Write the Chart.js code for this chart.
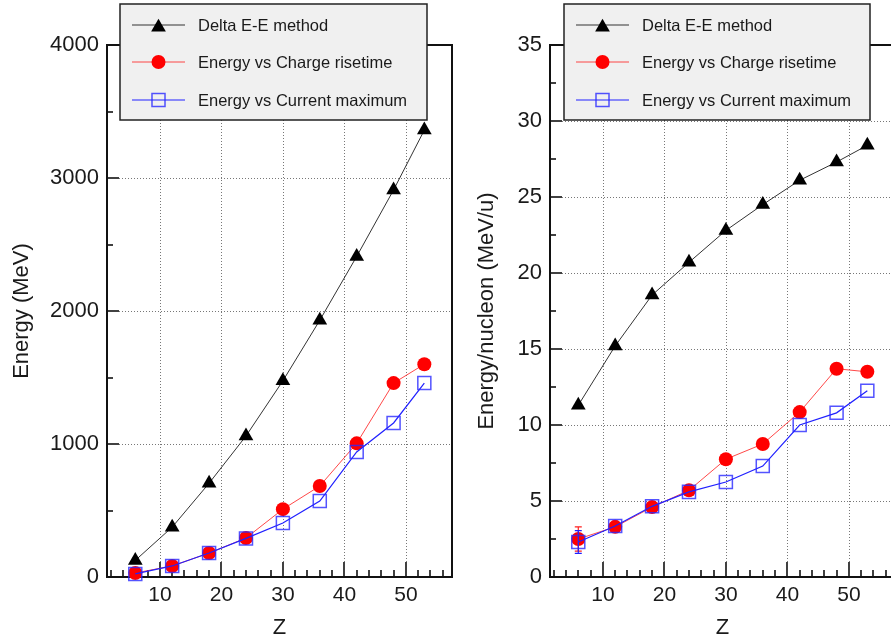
<!DOCTYPE html>
<html>
<head>
<meta charset="utf-8">
<script src="https://cdn.jsdelivr.net/npm/chart.js@4.4.0/dist/chart.umd.min.js"></script>
<style>
  html, body { margin: 0; padding: 0; background: #fff; overflow: hidden; }
  #wrap { position: relative; width: 891px; height: 642px; overflow: hidden; }
  canvas { position: absolute; top: 0; }
  #leftChart { left: 0; }
  #rightChart { left: 460px; }
</style>
</head>
<body>
<div id="wrap">
  <canvas id="leftChart" width="470" height="642"></canvas>
  <canvas id="rightChart" width="450" height="642"></canvas>
</div>
<script>
// 원자번호 Z
const zValues = [6, 12, 18, 24, 30, 36, 42, 48, 53];

// 왼쪽: 에너지 (MeV)
const deltaEnergy = [125, 375, 705, 1060, 1475, 1930, 2410, 2910, 3360];
const chargeEnergy = [30, 83, 180, 293, 510, 684, 1005, 1458, 1600];
const currentEnergy = [23, 83, 180, 290, 406, 571, 940, 1158, 1458];

// 오른쪽: 핵자당 에너지 (MeV/u)
const deltaPerNucleon = [11.3, 15.2, 18.55, 20.7, 22.8, 24.5, 26.1, 27.3, 28.4];
const chargePerNucleon = [2.5, 3.3, 4.6, 5.7, 7.75, 8.75, 10.85, 13.7, 13.5];
const currentPerNucleon = [2.3, 3.35, 4.65, 5.6, 6.25, 7.3, 10.0, 10.8, 12.25];

// 오차 막대 (Z=6 에서만 보임)
const chargeErrPerNucleon = [0.8, 0, 0, 0, 0, 0, 0, 0, 0];
const currentErrPerNucleon = [0.75, 0, 0, 0, 0, 0, 0, 0, 0];

const seriesNames = ['Delta E-E method', 'Energy vs Charge risetime', 'Energy vs Current maximum'];

// 눈금
const xMajorTicks = [10, 20, 30, 40, 50];
const xMinorTicks = [2, 4, 6, 8, 12, 14, 16, 18, 22, 24, 26, 28, 32, 34, 36, 38, 42, 44, 46, 48, 52, 54, 56];
const leftYMajor = [0, 1000, 2000, 3000, 4000];
const leftYMinor = [500, 1500, 2500, 3500];
const rightYMajor = [0, 5, 10, 15, 20, 25, 30, 35];
const rightYMinor = [2.5, 7.5, 12.5, 17.5, 22.5, 27.5, 32.5];

Chart.defaults.font.family = '"Liberation Sans", Arial, sans-serif';
Chart.defaults.color = '#1a1a1a';

// 축 테두리, 안쪽 눈금, 점선 격자
const framePlugin = {
  id: 'frame',
  beforeDatasetsDraw(chart, args, opts) {
    const ctx = chart.ctx;
    const a = chart.chartArea;
    const x = chart.scales.x;
    const y = chart.scales.y;
    ctx.save();

    ctx.strokeStyle = '#777';
    ctx.lineWidth = 1;
    ctx.setLineDash([1, 2]);
    opts.xMajor.forEach(v => {
      const px = Math.round(x.getPixelForValue(v)) + 0.5;
      ctx.beginPath(); ctx.moveTo(px, a.bottom - 15); ctx.lineTo(px, a.top); ctx.stroke();
    });
    opts.yMajor.forEach(v => {
      if (v === y.min || v === y.max) return;
      const py = Math.round(y.getPixelForValue(v)) + 0.5;
      ctx.beginPath(); ctx.moveTo(a.left + 12, py); ctx.lineTo(a.right, py); ctx.stroke();
    });
    ctx.setLineDash([]);

    ctx.strokeStyle = '#111';
    ctx.lineWidth = 1.6;
    const tickX = (list, len) => list.forEach(v => {
      const px = Math.round(x.getPixelForValue(v));
      ctx.beginPath(); ctx.moveTo(px, a.bottom); ctx.lineTo(px, a.bottom - len); ctx.stroke();
    });
    const tickY = (list, len) => list.forEach(v => {
      const py = Math.round(y.getPixelForValue(v));
      ctx.beginPath(); ctx.moveTo(a.left, py); ctx.lineTo(a.left + len, py); ctx.stroke();
    });
    tickX(opts.xMajor, 15);
    tickX(opts.xMinor, 7);
    tickY(opts.yMajor, 12);
    tickY(opts.yMinor, 6);

    ctx.lineWidth = 2;
    ctx.strokeRect(a.left, a.top, a.right - a.left, a.bottom - a.top);
    ctx.restore();
  }
};

// 오차 막대
const errorBarPlugin = {
  id: 'errbars',
  afterDatasetsDraw(chart, args, opts) {
    if (!opts.errors) return;
    const ctx = chart.ctx;
    const x = chart.scales.x;
    const y = chart.scales.y;
    ctx.save();
    ctx.lineWidth = 1.2;
    opts.errors.forEach(e => {
      const ds = chart.data.datasets[e.dataset];
      ctx.strokeStyle = e.color;
      ds.data.forEach((pt, i) => {
        const err = e.values[i];
        if (!err) return;
        const px = x.getPixelForValue(pt.x);
        const top = y.getPixelForValue(pt.y + err);
        const bot = y.getPixelForValue(pt.y - err);
        ctx.beginPath();
        ctx.moveTo(px, top); ctx.lineTo(px, bot);
        ctx.moveTo(px - 3.5, top); ctx.lineTo(px + 3.5, top);
        ctx.moveTo(px - 3.5, bot); ctx.lineTo(px + 3.5, bot);
        ctx.stroke();
      });
    });
    ctx.restore();
  }
};

// 범례 상자 (축 위에 겹쳐 그림)
function drawMarker(ctx, style, cx, cy, ds) {
  ctx.beginPath();
  if (style === 'triangle') {
    const r = ds.pointRadius;
    for (let k = 0; k < 3; k++) {
      const ang = k * 2 * Math.PI / 3;
      const px = cx + Math.sin(ang) * r;
      const py = cy + r * 0.25 - Math.cos(ang) * r;
      if (k === 0) ctx.moveTo(px, py); else ctx.lineTo(px, py);
    }
    ctx.closePath();
    ctx.fillStyle = ds.pointBackgroundColor;
    ctx.fill();
  } else if (style === 'circle') {
    ctx.arc(cx, cy, ds.pointRadius, 0, Math.PI * 2);
    ctx.fillStyle = ds.pointBackgroundColor;
    ctx.fill();
  } else {
    const s = ds.pointRadius * Math.SQRT1_2;
    ctx.rect(cx - s, cy - s, 2 * s, 2 * s);
    ctx.strokeStyle = ds.pointBorderColor;
    ctx.lineWidth = ds.pointBorderWidth;
    ctx.stroke();
  }
}

const boxLegendPlugin = {
  id: 'boxLegend',
  afterDraw(chart, args, opts) {
    const ctx = chart.ctx;
    const [x1, y1, x2, y2] = opts.box;
    ctx.save();
    ctx.fillStyle = '#f0f0f0';
    ctx.fillRect(x1, y1, x2 - x1, y2 - y1);
    ctx.strokeStyle = '#222';
    ctx.lineWidth = 1.5;
    ctx.strokeRect(x1, y1, x2 - x1, y2 - y1);

    chart.data.datasets.forEach((ds, i) => {
      const cy = opts.rows[i];
      ctx.strokeStyle = ds.borderColor;
      ctx.lineWidth = ds.borderWidth;
      ctx.beginPath();
      ctx.moveTo(opts.lineX[0], cy);
      ctx.lineTo(opts.lineX[1], cy);
      ctx.stroke();
      drawMarker(ctx, ds.pointStyle, (opts.lineX[0] + opts.lineX[1]) / 2, cy, ds);
      ctx.fillStyle = '#1a1a1a';
      ctx.font = '16.5px "Liberation Sans", Arial, sans-serif';
      ctx.textBaseline = 'middle';
      ctx.textAlign = 'left';
      ctx.fillText(ds.label, opts.textX, cy + 1);
    });
    ctx.restore();
  }
};

function toPoints(ys) {
  return ys.map((v, i) => ({ x: zValues[i], y: v }));
}

function makeDatasets(deltaArr, chargeArr, currentArr) {
  return [
    {
      label: seriesNames[0],
      data: toPoints(deltaArr),
      borderColor: '#333333',
      borderWidth: 1,
      pointStyle: 'triangle',
      pointRadius: 8.5,
      pointBackgroundColor: '#000000',
      pointBorderColor: '#000000',
      pointBorderWidth: 0,
      order: 3
    },
    {
      label: seriesNames[1],
      data: toPoints(chargeArr),
      borderColor: 'rgba(255, 40, 40, 0.85)',
      borderWidth: 1,
      pointStyle: 'circle',
      pointRadius: 7,
      pointBackgroundColor: '#ff0000',
      pointBorderColor: '#ff0000',
      pointBorderWidth: 0,
      order: 2
    },
    {
      label: seriesNames[2],
      data: toPoints(currentArr),
      borderColor: '#2020ff',
      borderWidth: 1.2,
      pointStyle: 'rect',
      pointRadius: 9.2,
      pointBackgroundColor: 'rgba(0, 0, 0, 0)',
      pointBorderColor: 'rgba(40, 40, 255, 0.8)',
      pointBorderWidth: 1.5,
      order: 1
    }
  ];
}

function makeChart(canvasId, cfg) {
  const ctx = document.getElementById(canvasId);
  return new Chart(ctx, {
    type: 'line',
    data: { datasets: cfg.datasets },
    plugins: [framePlugin, errorBarPlugin, boxLegendPlugin],
    options: {
      responsive: false,
      animation: false,
      events: [],
      datasets: { line: { clip: false, tension: 0 } },
      layout: { padding: { left: 0, right: cfg.padRight, top: 45, bottom: 0 } },
      plugins: {
        legend: { display: false },
        tooltip: { enabled: false },
        frame: { xMajor: xMajorTicks, xMinor: xMinorTicks, yMajor: cfg.yMajor, yMinor: cfg.yMinor },
        errbars: { errors: cfg.errors },
        boxLegend: cfg.legend
      },
      scales: {
        x: {
          type: 'linear',
          min: 1.4,
          max: 57.5,
          afterBuildTicks: s => { s.ticks = xMajorTicks.map(v => ({ value: v })); },
          afterFit: s => { s.height = 65; },
          grid: { display: false, drawTicks: false },
          border: { display: false },
          ticks: { font: { size: 21 }, padding: 6, maxRotation: 0, callback: v => String(v) },
          title: { display: true, text: 'Z', font: { size: 22, lineHeight: 1.2 }, padding: { top: 0, bottom: 1 } }
        },
        y: {
          type: 'linear',
          min: cfg.yMin,
          max: cfg.yMax,
          afterBuildTicks: s => { s.ticks = cfg.yMajor.map(v => ({ value: v })); },
          afterFit: s => { s.width = cfg.yWidth; },
          grid: { display: false, drawTicks: false },
          border: { display: false },
          ticks: { font: { size: 22 }, padding: 8, callback: v => String(v) },
          title: { display: true, text: cfg.yTitle, font: { size: 22, lineHeight: 1.2 }, padding: { top: cfg.titlePad, bottom: 0 } }
        }
      }
    }
  });
}

makeChart('leftChart', {
  datasets: makeDatasets(deltaEnergy, chargeEnergy, currentEnergy),
  yMin: 0, yMax: 4000,
  yMajor: leftYMajor, yMinor: leftYMinor,
  yTitle: 'Energy (MeV)',
  yWidth: 107, padRight: 18, titlePad: 9,
  errors: null,
  legend: { box: [120, 4, 427, 120], lineX: [132, 185], textX: 198, rows: [25, 62, 100] }
});

makeChart('rightChart', {
  datasets: makeDatasets(deltaPerNucleon, chargePerNucleon, currentPerNucleon),
  yMin: 0, yMax: 35,
  yMajor: rightYMajor, yMinor: rightYMinor,
  yTitle: 'Energy/nucleon (MeV/u)',
  yWidth: 90, padRight: 15, titlePad: 14,
  errors: [
    { dataset: 1, values: chargeErrPerNucleon, color: '#ff2020' },
    { dataset: 2, values: currentErrPerNucleon, color: '#2020ff' }
  ],
  legend: { box: [104, 4, 410, 120], lineX: [116, 169], textX: 182, rows: [25, 62, 100] }
});
</script>
</body>
</html>
